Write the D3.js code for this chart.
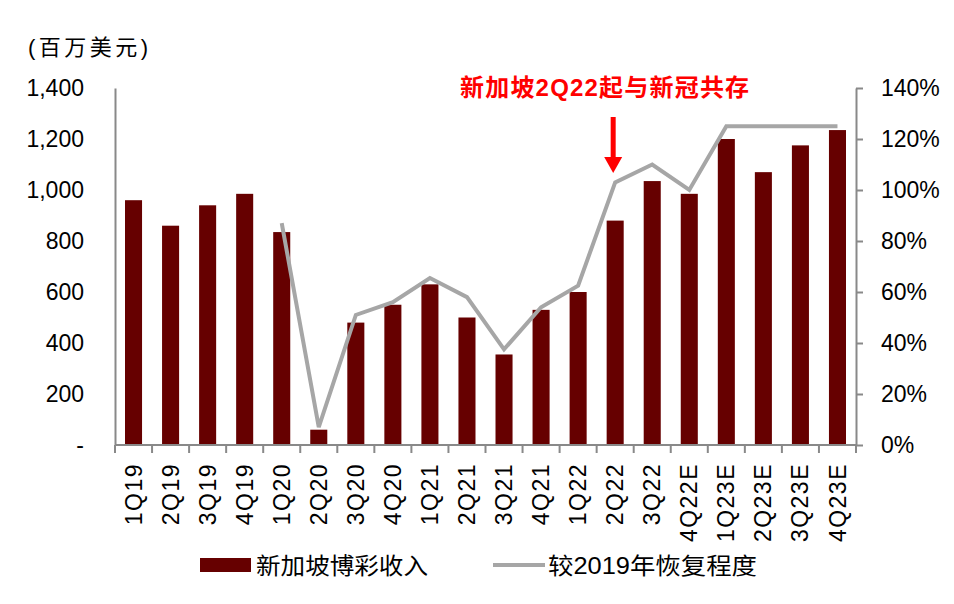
<!DOCTYPE html>
<html>
<head>
<meta charset="utf-8">
<script src="https://cdn.jsdelivr.net/npm/d3@7"></script>
<style>
  html, body { margin: 0; padding: 0; background: #fff; }
  svg { display: block; }
</style>
</head>
<body>
<svg id="chart" width="954" height="604"></svg>
<script>
// ---- data ----
const categories = ["1Q19","2Q19","3Q19","4Q19","1Q20","2Q20","3Q20","4Q20","1Q21","2Q21","3Q21","4Q21","1Q22","2Q22","3Q22","4Q22E","1Q23E","2Q23E","3Q23E","4Q23E"];
const revenue = [960, 860, 940, 985, 835, 60, 480, 550, 630, 500, 355, 530, 600, 880, 1035, 985, 1200, 1070, 1175, 1235];
const recovery = [null, null, null, null, 87, 7, 51, 56, 65.5, 58, 37.5, 54, 62.5, 103, 110, 100, 125, 125, 125, 125];
const leftTicks = [0, 200, 400, 600, 800, 1000, 1200, 1400];
const rightTicks = [0, 20, 40, 60, 80, 100, 120, 140];
const seriesNames = ["新加坡博彩收入", "较2019年恢复程度"];
const unitLabel = "(百万美元)";
const annotation = "新加坡2Q22起与新冠共存";
const annotatedCategory = "2Q22";

// ---- layout ----
const L = 115, R = 856, T = 88, B = 445;
const barColor = "#660000", lineColor = "#A6A6A6", axisColor = "#898989";
const latin = "'Liberation Sans', Arial, 'Noto Sans CJK SC', sans-serif";

const svg = d3.select("#chart");

const x = d3.scaleBand().domain(categories).range([L, R]).paddingInner(0.54).paddingOuter(0.27);
const yL = d3.scaleLinear().domain([0, 1400]).range([B, T]);
const yR = d3.scaleLinear().domain([0, 140]).range([B, T]);
const cx = c => x(c) + x.bandwidth() / 2;

// bars
svg.append("g").selectAll("rect").data(categories).join("rect")
  .attr("x", c => x(c))
  .attr("width", x.bandwidth())
  .attr("y", (c, i) => yL(revenue[i]))
  .attr("height", (c, i) => B - yL(revenue[i]))
  .attr("fill", barColor);

// line
const line = d3.line()
  .defined(d => d.v != null)
  .x(d => cx(d.c))
  .y(d => yR(d.v));
svg.append("path")
  .datum(categories.map((c, i) => ({c, v: recovery[i]})))
  .attr("d", line)
  .attr("fill", "none")
  .attr("stroke", lineColor)
  .attr("stroke-width", 4)
  .attr("stroke-linejoin", "miter");

// left axis
const gL = svg.append("g").attr("transform", `translate(${L},0)`)
  .call(d3.axisLeft(yL).tickValues(leftTicks).tickSize(0).tickSizeOuter(0).tickPadding(31)
    .tickFormat(d => d === 0 ? "-" : d3.format(",")(d)));
gL.select(".domain").attr("stroke", axisColor).attr("stroke-width", 2);
gL.selectAll("text").attr("font-family", latin).attr("font-size", 23).attr("fill", "#000");

// right axis
const gR = svg.append("g").attr("transform", `translate(${R},0)`)
  .call(d3.axisRight(yR).tickValues(rightTicks).tickSize(7).tickSizeOuter(0).tickPadding(18)
    .tickFormat(d => d + "%"));
gR.select(".domain").attr("stroke", axisColor).attr("stroke-width", 2);
gR.selectAll("line").attr("stroke", axisColor).attr("stroke-width", 2);
gR.selectAll("text").attr("font-family", latin).attr("font-size", 23).attr("fill", "#000");

// bottom axis
const step = x.step();
const boundaries = categories.map(c => x(c) - step * x.paddingInner() / 2).concat([R]);
const gB = svg.append("g");
gB.append("line").attr("x1", L).attr("x2", R).attr("y1", B).attr("y2", B)
  .attr("stroke", axisColor).attr("stroke-width", 2);
gB.selectAll("line.tk").data(boundaries).join("line").attr("class", "tk")
  .attr("x1", d => d).attr("x2", d => d).attr("y1", B).attr("y2", B + 8)
  .attr("stroke", axisColor).attr("stroke-width", 2);
gB.selectAll("text").data(categories).join("text")
  .attr("transform", c => `translate(${cx(c)},463) rotate(-90)`)
  .attr("text-anchor", "end")
  .attr("dy", "0.35em")
  .attr("letter-spacing", 1.5)
  .attr("font-family", latin).attr("font-size", 23).attr("fill", "#000")
  .text(c => c);

// unit label
svg.append("text").attr("x", 28).attr("y", 47).attr("dy", "0.35em")
  .attr("font-family", latin).attr("font-size", 22).attr("fill", "#000")
  .attr("textLength", 120).attr("lengthAdjust", "spacing")
  .text(unitLabel);

// annotation
svg.append("text").attr("x", 460).attr("y", 88).attr("dy", "0.35em")
  .attr("font-family", latin).attr("font-size", 24).attr("font-weight", "bold").attr("fill", "#FF0000")
  .attr("letter-spacing", 1.2)
  .text(annotation);

// arrow
const ax = cx(annotatedCategory) - 2;
svg.append("rect").attr("x", ax - 2.5).attr("y", 117).attr("width", 5).attr("height", 42).attr("fill", "#FF0000");
svg.append("path")
  .attr("d", `M${ax - 9},157 L${ax + 9},157 L${ax},173 Z`)
  .attr("fill", "#FF0000");

// legend
const lg = svg.append("g");
lg.append("rect").attr("x", 200).attr("y", 558).attr("width", 51).attr("height", 14).attr("fill", barColor);
lg.append("text").attr("x", 256).attr("y", 566).attr("dy", "0.35em")
  .attr("font-family", latin).attr("font-size", 23).attr("fill", "#000")
  .attr("textLength", 172).attr("lengthAdjust", "spacingAndGlyphs")
  .text(seriesNames[0]);
lg.append("line").attr("x1", 493).attr("x2", 545).attr("y1", 565).attr("y2", 565)
  .attr("stroke", lineColor).attr("stroke-width", 4);
lg.append("text").attr("x", 548).attr("y", 566).attr("dy", "0.35em")
  .attr("font-family", latin).attr("font-size", 23).attr("fill", "#000")
  .attr("textLength", 209).attr("lengthAdjust", "spacingAndGlyphs")
  .text(seriesNames[1]);
</script>
</body>
</html>
